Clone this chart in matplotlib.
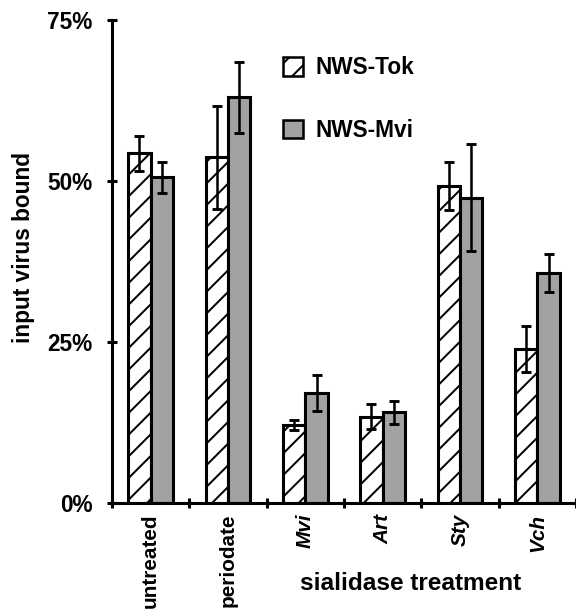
import numpy as np
import matplotlib
matplotlib.use("Agg")
import matplotlib.pyplot as plt
from matplotlib.patches import Patch

plt.rcParams['font.family'] = ['Liberation Sans', 'DejaVu Sans']
plt.rcParams['font.weight'] = 'bold'
plt.rcParams['hatch.linewidth'] = 1.1

treatments = ['untreated', 'periodate', 'Mvi', 'Art', 'Sty', 'Vch']
italic = [False, False, True, True, True, True]
tok = [54.3, 53.7, 12.1, 13.4, 49.2, 23.9]
tok_err = [2.7, 8.0, 0.8, 1.9, 3.7, 3.6]
mvi = [50.6, 63.0, 17.1, 14.1, 47.4, 35.7]
mvi_err = [2.4, 5.5, 2.8, 1.8, 8.3, 3.0]

dpi = 130
fs = 12.5
fig = plt.figure(figsize=(576 / dpi, 616 / dpi), dpi=dpi)
ax = fig.add_axes([112 / 576, 113 / 616, 464 / 576, 483 / 616])

x = np.arange(len(treatments))
w = 0.29
lw = 1.7

ax.bar(x - w / 2, tok, w, facecolor='white', edgecolor='black', hatch='//',
       linewidth=lw, zorder=2)
ax.bar(x + w / 2, mvi, w, facecolor='#a2a2a2', edgecolor='black',
       linewidth=lw, zorder=2)
ax.errorbar(x - w / 2, tok, yerr=tok_err, fmt='none', ecolor='black',
            elinewidth=1.4, capsize=2.9, capthick=1.6, zorder=3)
ax.errorbar(x + w / 2, mvi, yerr=mvi_err, fmt='none', ecolor='black',
            elinewidth=1.4, capsize=2.9, capthick=1.6, zorder=3)

ax.set_xlim(-0.5, 5.5)
ax.set_ylim(0, 75)
for s in ['top', 'right']:
    ax.spines[s].set_visible(False)
for s in ['left', 'bottom']:
    ax.spines[s].set_linewidth(1.7)

ax.set_yticks([0, 25, 50, 75])
ax.set_yticklabels(['0%', '25%', '50%', '75%'], fontsize=fs, fontweight='bold')
ax.tick_params(axis='y', direction='inout', length=5.5, width=1.7, pad=8)

ax.set_xticks(x)
ax.set_xticklabels(treatments, rotation=90, fontsize=11.5, fontweight='bold',
                   va='top')
for lab, it in zip(ax.get_xticklabels(), italic):
    if it:
        lab.set_style('italic')
ax.tick_params(axis='x', which='major', length=0, pad=6)
ax.set_xticks(np.arange(-0.5, 6.0, 1.0), minor=True)
ax.tick_params(axis='x', which='minor', direction='inout', length=5.5, width=1.7)

ax.set_ylabel('input virus bound', fontsize=12.5, fontweight='bold')
ax.yaxis.set_label_coords(-0.165, 0.53)
fig.text(411 / 576, 1 - 583 / 616, 'sialidase treatment', fontsize=13.5,
         fontweight='bold', ha='center', va='center')

handles = [Patch(facecolor='white', edgecolor='black', hatch='//', linewidth=1.4),
           Patch(facecolor='#a2a2a2', edgecolor='black', linewidth=1.4)]
ax.legend(handles, ['NWS-Tok', 'NWS-Mvi'], loc='upper left',
          bbox_to_anchor=(0.3685, 0.925), frameon=False,
          handlelength=0.9, handleheight=0.9, handletextpad=0.55,
          labelspacing=1.75, borderpad=0, borderaxespad=0,
          prop={'weight': 'bold', 'size': fs})

fig.savefig('out.png', dpi=dpi)
